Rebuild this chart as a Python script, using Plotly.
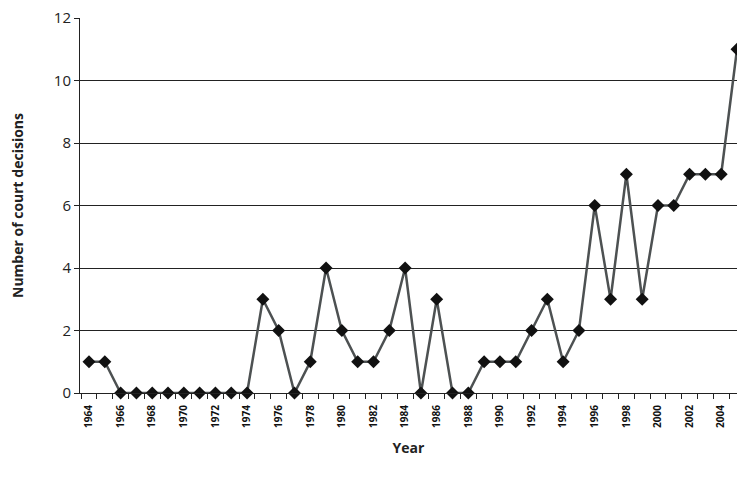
import plotly.graph_objects as go

years = list(range(1964, 2006))
decisions = [1, 1, 0, 0, 0, 0, 0, 0, 0, 0, 0, 3, 2, 0, 1, 4, 2, 1, 1, 2, 4,
             0, 3, 0, 0, 1, 1, 1, 2, 3, 1, 2, 6, 3, 7, 3, 6, 6, 7, 7, 7, 11]
tick_years = list(range(1964, 2006, 2))

fig = go.Figure()
fig.add_trace(go.Scatter(
    x=years, y=decisions, mode="lines+markers",
    line=dict(color="#4d5152", width=2.5),
    marker=dict(symbol="diamond", size=10, color="#111111"),
    cliponaxis=False,
))

fig.update_layout(
    width=737, height=483,
    margin=dict(l=80, r=0, t=18, b=90),
    plot_bgcolor="white", paper_bgcolor="white",
    showlegend=False,
    font=dict(family="Open Sans, DejaVu Sans, sans-serif", color="#222"),
)
fig.update_xaxes(
    range=[1963.43, 2005.0], tickvals=tick_years, ticktext=[str(y) for y in tick_years],
    tickangle=-90, tickfont=dict(size=10, family="Open Sans", weight="bold", color="#111"),
    ticklabelstandoff=7,
    ticks="", showgrid=False, showline=True, linecolor="#222", linewidth=1, automargin=False,
    minor=dict(ticks="outside", tick0=1963.5, dtick=1, ticklen=5, tickcolor="#222", showgrid=False),
    title=dict(text="<b>Year</b>", font=dict(size=14), standoff=16),
)
fig.update_yaxes(
    range=[0, 12], dtick=2, tickfont=dict(size=15), automargin=False,
    showgrid=True, gridcolor="#222", gridwidth=1, zeroline=False,
    showline=True, linecolor="#222", linewidth=1, ticks="outside", ticklen=5, tickcolor="#222",
    title=dict(text="<b>Number of court decisions</b>", font=dict(size=14), standoff=26),
)

# the page body has a default 8px margin, drop it so the figure fills the window
fig.write_html("out.html", config={"displayModeBar": False},
               post_script="document.body.style.margin='0';")
